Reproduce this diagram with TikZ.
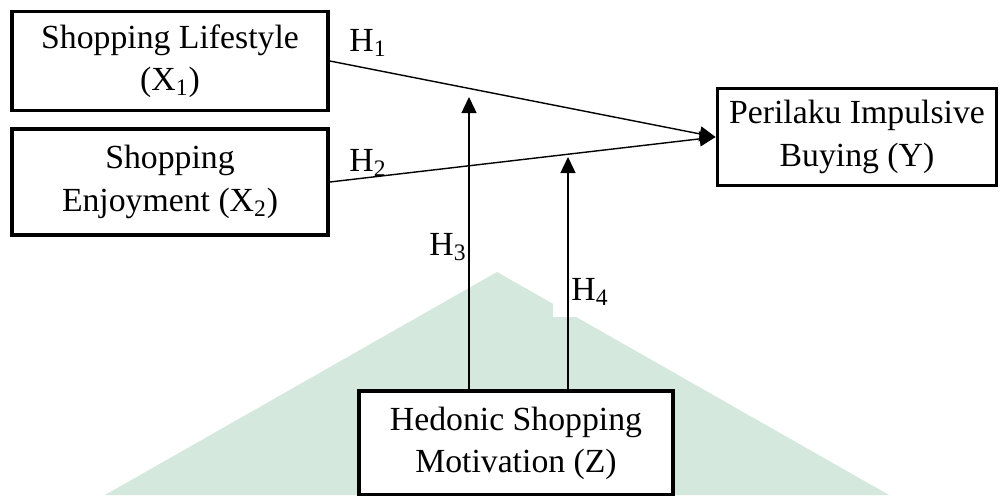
\documentclass[tikz,border=0pt]{standalone}
\usepackage{fontspec}
\setmainfont{Liberation Serif}
\usepackage{xcolor}
\usetikzlibrary{arrows.meta}
\definecolor{markgreen}{RGB}{212, 232, 221}

\begin{document}
\begin{tikzpicture}[x=0.02cm, y=-0.02cm,
  var/.style={draw, fill=white, line width=2.2pt, align=center, inner sep=0pt, font=\fontsize{19.2}{24}\selectfont},
  link/.style={-{Triangle[length=0.32cm, width=0.3cm]}, line width=0.8pt},
  hyp/.style={inner sep=0pt, font=\fontsize{19.2}{24}\selectfont}]
% Page and watermark
\fill[white] (0,0) rectangle (1000,495);
\useasboundingbox (0,0) rectangle (1000,495);
\fill[markgreen] (105,495) -- (497,272) -- (889,495) -- cycle;
\fill[white] (553,250) rectangle (620,317);

% Variables
\node[var, minimum width=6.32cm, minimum height=1.98cm] (x1) at (170,61) {Shopping Lifestyle\\(X\textsubscript{1})};
\node[var, minimum width=6.32cm, minimum height=2.12cm] (x2) at (170,182) {Shopping\\Enjoyment (X\textsubscript{2})};
\node[var, minimum width=5.58cm, minimum height=1.94cm] (y) at (857,137) {Perilaku Impulsive\\Buying (Y)};
\node[var, minimum width=6.28cm, minimum height=2.08cm] (z) at (516,443) {Hedonic Shopping\\Motivation (Z)};

% Paths
\coordinate (m3) at (469,97);
\coordinate (m4) at (568,157);
\draw[link] (x1.east) -- (y.west);
\draw[link] (x2.east) -- (y.west);
\draw[link] (z.north -| m3) -- (m3);
\draw[link] (z.north -| m4) -- (m4);

% Hypotheses
\foreach \n/\x/\y in {1/368/43, 2/368/163, 3/448/247, 4/590/292}
  \node[hyp] (h\n) at (\x,\y) {H\textsubscript{\n}};
\end{tikzpicture}
\end{document}
